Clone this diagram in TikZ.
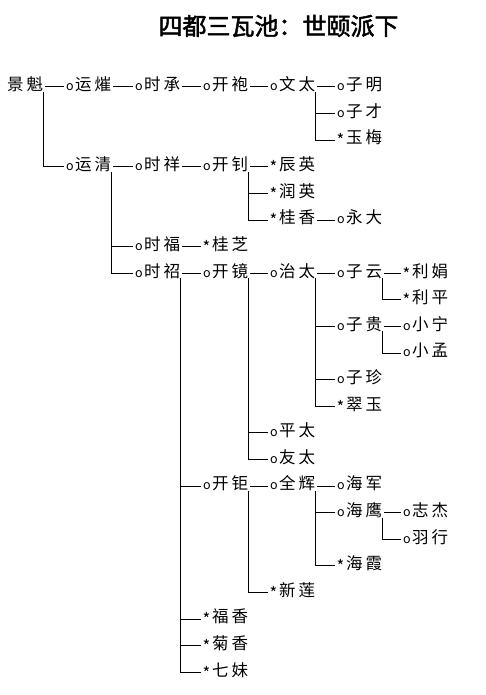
\documentclass[tikz,border=0pt]{standalone}
\usepackage{fontspec}
\setmainfont{Noto Sans CJK SC}[AutoFakeBold=2]
\newcommand\cho{\makebox[9.5pt][l]{\kern0.3pt\fontsize{12.5}{12.5}\selectfont o}}
\newcommand\cst{\makebox[9.5pt][l]{\raisebox{-3pt}{*}}}
\newcommand\nm[2]{#1\kern3pt#2}
\tikzset{
  pn/.style={anchor=west, inner sep=0pt, text height=0.76em, text depth=0pt,
             font=\fontsize{16.5}{18}\selectfont},
  link/.style={line width=1pt, black},
  ttl/.style={inner sep=0pt, font=\fontsize{24}{28}\selectfont\bfseries},
}
\begin{document}
\begin{tikzpicture}[x=1pt,y=-1pt]
\useasboundingbox (0,0) rectangle (485,695);
\node[ttl] (title) at (278.5,26) {四都三瓦池：世颐派下};
% columns
\def\La{65.5}\def\Lb{134.5}\def\Lc{202.5}\def\Ld{269.5}\def\Le{336.5}\def\Lf{402.5}
\newcommand\rw[1]{87+(#1-1)*26.6}
% level 0
\node[pn] (n1) at (7,{\rw{1}}) {\nm{景}{魁}};
% level 1
\node[pn] (a1) at (\La,{\rw{1}}) {\cho\nm{运}{熣}};
\node[pn] (a2) at (\La,{\rw{4}}) {\cho\nm{运}{清}};
% level 2
\node[pn] (b1) at (\Lb,{\rw{1}}) {\cho\nm{时}{承}};
\node[pn] (b2) at (\Lb,{\rw{4}}) {\cho\nm{时}{祥}};
\node[pn] (b3) at (\Lb,{\rw{7}}) {\cho\nm{时}{福}};
\node[pn] (b4) at (\Lb,{\rw{8}}) {\cho\nm{时}{祒}};
% level 3
\node[pn] (c1) at (\Lc,{\rw{1}}) {\cho\nm{开}{袍}};
\node[pn] (c2) at (\Lc,{\rw{4}}) {\cho\nm{开}{钊}};
\node[pn] (c3) at (\Lc,{\rw{7}}) {\cst\nm{桂}{芝}};
\node[pn] (c4) at (\Lc,{\rw{8}}) {\cho\nm{开}{镜}};
\node[pn] (c5) at (\Lc,{\rw{16}}) {\cho\nm{开}{钜}};
\node[pn] (c6) at (\Lc,{\rw{21}}) {\cst\nm{福}{香}};
\node[pn] (c7) at (\Lc,{\rw{22}}) {\cst\nm{菊}{香}};
\node[pn] (c8) at (\Lc,{\rw{23}}) {\cst\nm{七}{妹}};
% level 4
\node[pn] (d1) at (\Ld,{\rw{1}}) {\cho\nm{文}{太}};
\node[pn] (d2) at (\Ld,{\rw{4}}) {\cst\nm{辰}{英}};
\node[pn] (d3) at (\Ld,{\rw{5}}) {\cst\nm{润}{英}};
\node[pn] (d4) at (\Ld,{\rw{6}}) {\cst\nm{桂}{香}};
\node[pn] (d5) at (\Ld,{\rw{8}}) {\cho\nm{治}{太}};
\node[pn] (d6) at (\Ld,{\rw{14}}) {\cho\nm{平}{太}};
\node[pn] (d7) at (\Ld,{\rw{15}}) {\cho\nm{友}{太}};
\node[pn] (d8) at (\Ld,{\rw{16}}) {\cho\nm{全}{辉}};
\node[pn] (d9) at (\Ld,{\rw{20}}) {\cst\nm{新}{莲}};
% level 5
\node[pn] (e1) at (\Le,{\rw{1}}) {\cho\nm{子}{明}};
\node[pn] (e2) at (\Le,{\rw{2}}) {\cho\nm{子}{才}};
\node[pn] (e3) at (\Le,{\rw{3}}) {\cst\nm{玉}{梅}};
\node[pn] (e4) at (\Le,{\rw{6}}) {\cho\nm{永}{大}};
\node[pn] (e5) at (\Le,{\rw{8}}) {\cho\nm{子}{云}};
\node[pn] (e6) at (\Le,{\rw{10}}) {\cho\nm{子}{贵}};
\node[pn] (e7) at (\Le,{\rw{12}}) {\cho\nm{子}{珍}};
\node[pn] (e8) at (\Le,{\rw{13}}) {\cst\nm{翠}{玉}};
\node[pn] (e9) at (\Le,{\rw{16}}) {\cho\nm{海}{军}};
\node[pn] (e10) at (\Le,{\rw{17}}) {\cho\nm{海}{鹰}};
\node[pn] (e11) at (\Le,{\rw{19}}) {\cst\nm{海}{霞}};
% level 6
\node[pn] (f1) at (\Lf,{\rw{8}}) {\cst\nm{利}{娟}};
\node[pn] (f2) at (\Lf,{\rw{9}}) {\cst\nm{利}{平}};
\node[pn] (f3) at (\Lf,{\rw{10}}) {\cho\nm{小}{宁}};
\node[pn] (f4) at (\Lf,{\rw{11}}) {\cho\nm{小}{孟}};
\node[pn] (f5) at (\Lf,{\rw{17}}) {\cho\nm{志}{杰}};
\node[pn] (f6) at (\Lf,{\rw{18}}) {\cho\nm{羽}{行}};
% first-child connectors (same row)
\foreach \ppar/\kkid in {n1/a1, a1/b1, b1/c1, c1/d1, d1/e1, a2/b2, b2/c2, c2/d2,
    d4/e4, b3/c3, b4/c4, c4/d5, d5/e5, e5/f1, e6/f3, c5/d8, d8/e9, e10/f5}
  \draw[link] ([xshift=2pt]\ppar.east) -- ([xshift=-2pt]\kkid.west);
% later-child connectors (elbow)
\foreach \ppar/\kkid in {n1/a2, d1/e2, d1/e3, a2/b3, a2/b4, c2/d3, c2/d4,
    b4/c5, b4/c6, b4/c7, b4/c8, c4/d6, c4/d7, d5/e6, d5/e7, d5/e8,
    e5/f2, e6/f4, c5/d9, d8/e10, d8/e11, e10/f6}
  \draw[link] ([yshift=-1pt]\ppar.south east) |- ([xshift=-2pt]\kkid.west);
\end{tikzpicture}
\end{document}
